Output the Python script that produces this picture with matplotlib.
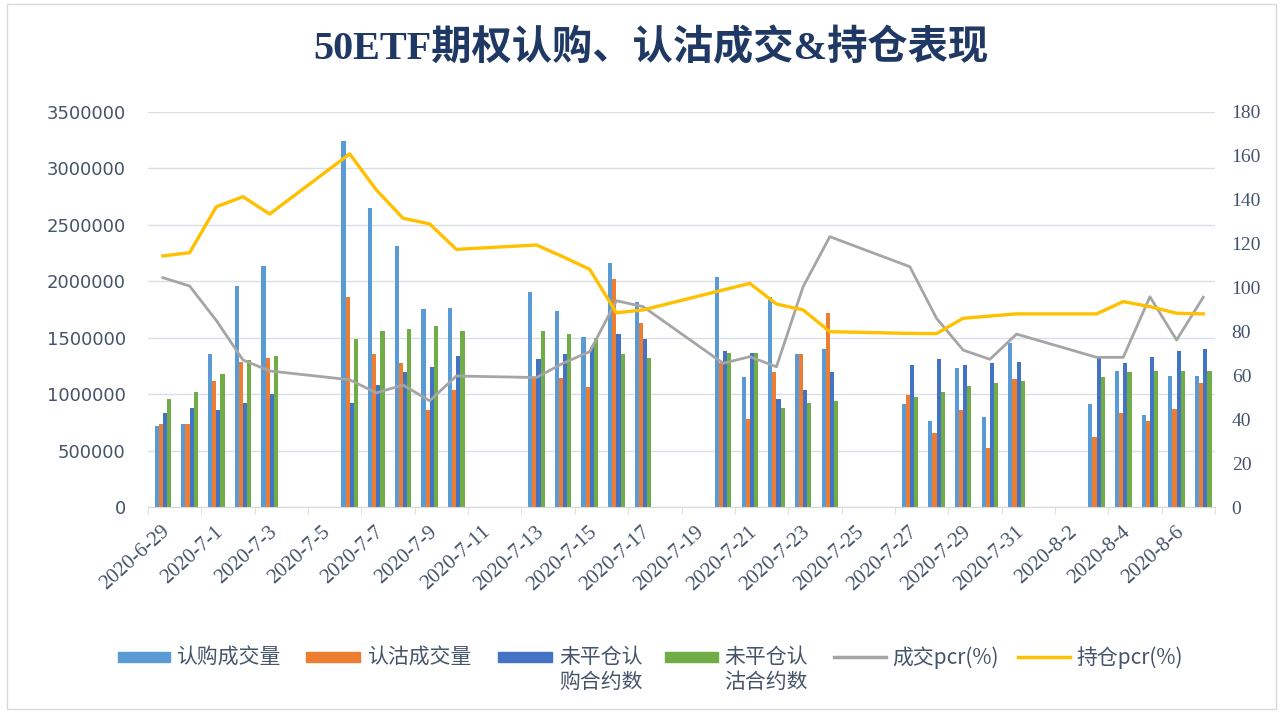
import matplotlib
matplotlib.use("Agg")
import matplotlib.pyplot as plt
import numpy as np
import pandas as pd
from matplotlib.patches import Rectangle
from matplotlib.lines import Line2D
from matplotlib.ticker import FuncFormatter

# ---------------- data ----------------
trade_dates = ["2020-06-29", "2020-06-30", "2020-07-01", "2020-07-02", "2020-07-03",
               "2020-07-06", "2020-07-07", "2020-07-08", "2020-07-09", "2020-07-10",
               "2020-07-13", "2020-07-14", "2020-07-15", "2020-07-16", "2020-07-17",
               "2020-07-20", "2020-07-21", "2020-07-22", "2020-07-23", "2020-07-24",
               "2020-07-27", "2020-07-28", "2020-07-29", "2020-07-30", "2020-07-31",
               "2020-08-03", "2020-08-04", "2020-08-05", "2020-08-06", "2020-08-07"]

call_volume = [718000, 733000, 1354000, 1962000, 2137000,
               3247000, 2648000, 2314000, 1753000, 1767000,
               1909000, 1738000, 1510000, 2166000, 1815000,
               2042000, 1150000, 1865000, 1354000, 1401000,
               910000, 765000, 1229000, 801000, 1451000,
               910000, 1208000, 815000, 1161000, 1161000]
put_volume = [733000, 733000, 1117000, 1288000, 1324000,
              1865000, 1354000, 1274000, 860000, 1037000,
              1141000, 1141000, 1067000, 2021000, 1628000,
              1274000, 777000, 1194000, 1354000, 1723000,
              993000, 653000, 860000, 526000, 1132000,
              623000, 830000, 765000, 869000, 1096000]
call_oi = [830000, 880000, 860000, 925000, 1002000,
           925000, 1082000, 1194000, 1244000, 1339000,
           1309000, 1354000, 1421000, 1531000, 1487000,
           1386000, 1368000, 955000, 1037000, 1194000,
           1259000, 1309000, 1259000, 1274000, 1288000,
           1332000, 1274000, 1332000, 1386000, 1401000]
put_oi = [957000, 1017000, 1179000, 1300000, 1339000,
          1487000, 1563000, 1578000, 1607000, 1563000,
          1563000, 1531000, 1495000, 1354000, 1324000,
          1368000, 1368000, 875000, 925000, 942000,
          972000, 1017000, 1073000, 1096000, 1120000,
          1150000, 1194000, 1208000, 1208000, 1208000]
volume_pcr = [104.5, 100.7, 85.0, 67.0, 62.0,
              58.0, 52.0, 55.6, 48.4, 59.7,
              59.0, 65.5, 70.8, 94.0, 91.3,
              65.5, 68.5, 63.9, 100.4, 123.2,
              109.5, 86.0, 71.5, 67.3, 78.8,
              68.2, 68.2, 95.8, 76.1, 95.6]
oi_pcr = [114.4, 115.9, 136.8, 141.4, 133.5,
          160.9, 144.5, 131.6, 129.0, 117.4,
          119.4, 114.0, 108.3, 88.5, 89.8,
          98.9, 101.9, 92.5, 89.8, 79.9,
          79.1, 79.0, 86.0, 87.0, 88.0,
          88.0, 93.6, 91.3, 88.3, 88.0]

series_names = ["认购成交量", "认沽成交量", "未平仓认\n购合约数", "未平仓认\n沽合约数",
                "成交pcr(%)", "持仓pcr(%)"]
title = "50ETF期权认购、认沽成交&持仓表现"

# ---------------- layout ----------------
W, H = 1285, 713
fig = plt.figure(figsize=(W / 100, H / 100), dpi=100)
fig.patch.set_facecolor("white")

# outer frame
fig.add_artist(Rectangle((7 / W, 4 / H), (1276 - 7) / W, (709 - 4) / H,
                         transform=fig.transFigure, fill=False,
                         edgecolor="#D9D9D9", linewidth=1.0))

L, R, T, B = 148, 1215, 112, 507
ax = fig.add_axes([L / W, 1 - B / H, (R - L) / W, (B - T) / H])
ax2 = ax.twinx()

start = pd.Timestamp("2020-06-29")
end = pd.Timestamp("2020-08-07")
ndays = (end - start).days + 1
x = np.array([(pd.Timestamp(d) - start).days for d in trade_dates], dtype=float)

c_call = "#5B9BD5"
c_put = "#ED7D31"
c_coi = "#4472C4"
c_poi = "#70AD47"
c_vpcr = "#A5A5A5"
c_opcr = "#FFC000"

bw = 0.155
xb = x + 0.06
ax.bar(xb - 1.5 * bw, call_volume, bw, color=c_call, zorder=2)
ax.bar(xb - 0.5 * bw, put_volume, bw, color=c_put, zorder=2)
ax.bar(xb + 0.5 * bw, call_oi, bw, color=c_coi, zorder=2)
ax.bar(xb + 1.5 * bw, put_oi, bw, color=c_poi, zorder=2)

ax2.plot(xb, volume_pcr, color=c_vpcr, linewidth=2.0, solid_joinstyle="round", zorder=3)
ax2.plot(xb, oi_pcr, color=c_opcr, linewidth=2.4, solid_joinstyle="round", zorder=4)

ax.set_xlim(-0.5, ndays - 0.5)
ax.set_ylim(0, 3500000)
ax2.set_ylim(0, 180)
ax.set_yticks(np.arange(0, 3500001, 500000))
ax2.set_yticks(np.arange(0, 181, 20))
ax.yaxis.set_major_formatter(FuncFormatter(lambda v, p: f"{int(round(v))}"))

ax.grid(axis="y", color="#D9DEE8", linewidth=1.0, zorder=0)
ax.set_axisbelow(True)
for a in (ax, ax2):
    for s in ("top", "left", "right"):
        a.spines[s].set_visible(False)
    a.spines["bottom"].set_color("#D9D9D9")
ax2.spines["bottom"].set_visible(False)

tick_color = "#44546A"
ax.tick_params(axis="y", length=0, pad=16, labelsize=13, labelcolor=tick_color)
for lab in ax.get_yticklabels():
    lab.set_fontfamily("DejaVu Sans")
ax2.tick_params(axis="y", length=0, pad=12, labelsize=14, labelcolor=tick_color)
for lab in ax2.get_yticklabels():
    lab.set_fontfamily("Liberation Serif")

# x ticks: label every second day, tick marks at day boundaries
label_days = np.arange(0, ndays, 2)
labels = []
for d in label_days:
    t = start + pd.Timedelta(days=int(d))
    labels.append(f"{t.year}-{t.month}-{t.day}")
ax.set_xticks(label_days.astype(float))
ax.set_xticklabels(labels, rotation=42, ha="right", rotation_mode="anchor",
                   fontfamily="Liberation Serif", fontsize=15, color=tick_color)
ax.tick_params(axis="x", length=0, pad=11)
ax.set_xticks(np.arange(-0.5, ndays, 2), minor=True)
ax.tick_params(axis="x", which="minor", length=5, color="#D9D9D9")

# title
fig.text(651 / W, 1 - 48 / H, title, ha="center", va="center",
         fontsize=29, fontweight="bold", color="#1F3864",
         family=["Liberation Serif", "Noto Sans CJK SC"])

# legend (manual)
leg_font = ["Noto Sans CJK SC", "DejaVu Sans"]
leg_color = "#44546A"
y0 = 1 - 657 / H
items = [
    ("patch", c_call, 118, 170, 176),
    ("patch", c_put, 306, 360, 367),
    ("patch", c_coi, 498, 552, 559),
    ("patch", c_poi, 665, 718, 724),
    ("line", c_vpcr, 834, 886, 892),
    ("line", c_opcr, 1018, 1070, 1076),
]
for (kind, col, x0, x1, tx), name in zip(items, series_names):
    if kind == "patch":
        fig.add_artist(Rectangle((x0 / W, y0 - 5 / H), (x1 - x0) / W, 10 / H,
                                 transform=fig.transFigure, color=col))
    else:
        fig.add_artist(Line2D([x0 / W, x1 / W], [y0, y0], transform=fig.transFigure,
                              color=col, linewidth=2.5))
    fig.text(tx / W, y0 + 11 / H, name, ha="left", va="top", fontsize=15,
             color=leg_color, family=leg_font, linespacing=1.15)

fig.savefig("out.png", dpi=100)
